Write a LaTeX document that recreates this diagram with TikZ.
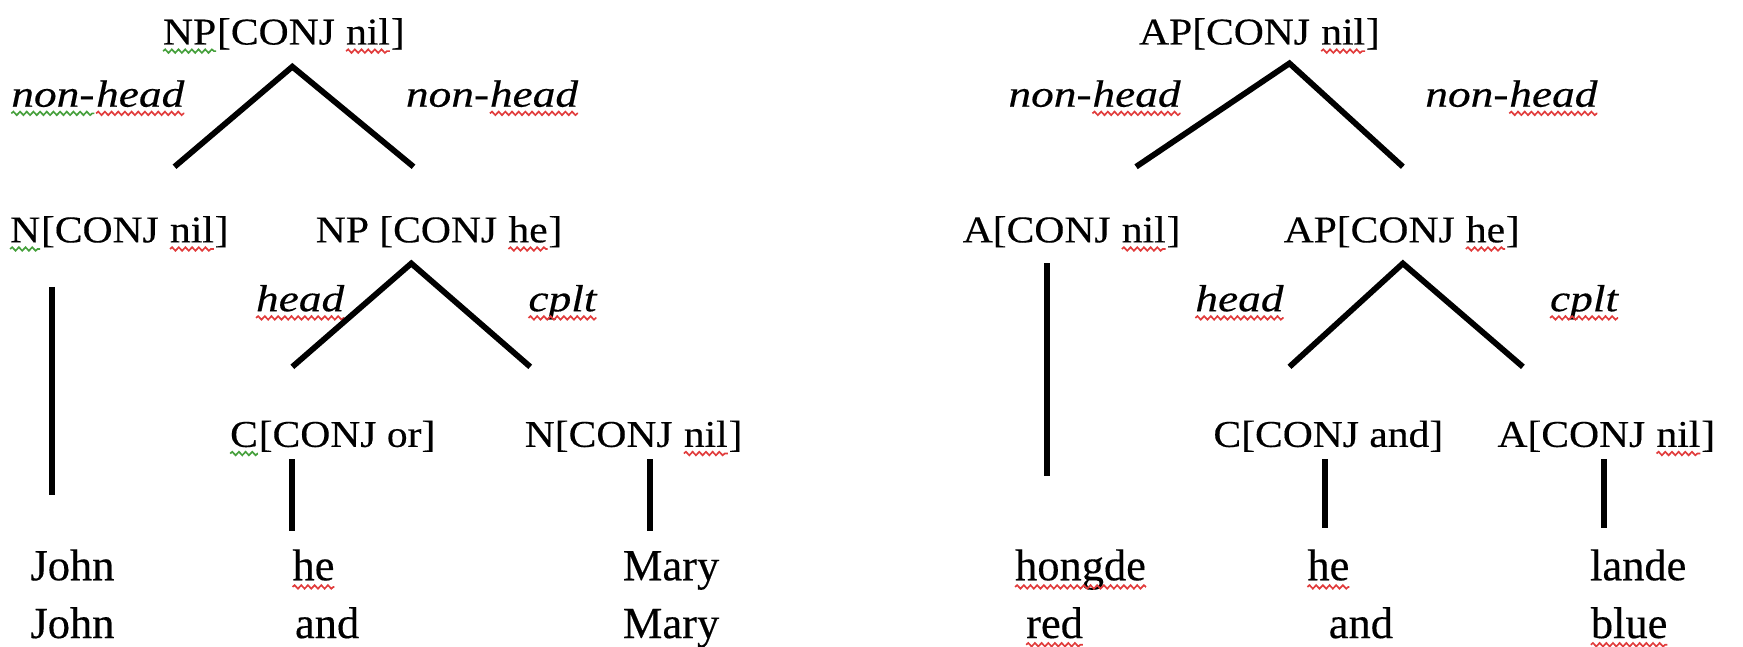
\documentclass[tikz,border=0pt]{standalone}
\usepackage{fontspec}
\setmainfont[FakeBold=0.3]{Liberation Serif}
\newfontfamily\catfont[FakeStretch=1.1,FakeBold=0.35]{Liberation Serif}
\newfontfamily\relfont[FakeStretch=1.2,FakeBold=0.35]{Liberation Serif Italic}
\usetikzlibrary{decorations.pathmorphing}
\definecolor{spellred}{RGB}{225,60,60}
\definecolor{spellgreen}{RGB}{70,160,60}

% wavy proofing underline under a piece of text
\newcommand\squig[2]{\tikz[baseline=(sq.base)]{%
  \node[inner sep=0pt,outer sep=0pt,anchor=base](sq){#2};%
  \draw[#1,line width=0.75pt,decorate,
        decoration={snake,amplitude=0.8pt,segment length=3pt}]
    ([yshift=-3pt]sq.base west) -- ([yshift=-3pt]sq.base east);}}

\tikzset{
  cat/.style={anchor=base, inner sep=0pt, font=\catfont\fontsize{17}{20}\selectfont},
  rel/.style={anchor=base, inner sep=0pt, font=\relfont\fontsize{17}{20}\selectfont},
  word/.style={anchor=base west, inner sep=0pt, font=\fontsize{20}{24}\selectfont},
  branch/.style={line width=2.6pt, line cap=butt},
}

\begin{document}
\begin{tikzpicture}[x=0.5pt,y=-0.5pt]
\useasboundingbox (0,0) rectangle (1568,582);

% ---------- left tree: John he Mary ----------
\node[cat] (np)   at (255,40)  {\squig{spellgreen}{NP}[CONJ \squig{spellred}{nil}]};
\node[rel] (nhl1) at (88,96)   {\squig{spellgreen}{non-}\squig{spellred}{head}};
\node[rel] (nhr1) at (443,96)  {non-\squig{spellred}{head}};
\coordinate (np-top) at (263,60);
\coordinate (np-l)   at (157,150);
\coordinate (np-r)   at (372,150);
\draw[branch] (np-l) -- (np-top) -- (np-r);

\node[cat] (n1)  at (107,218) {\squig{spellgreen}{N}[CONJ \squig{spellred}{nil}]};
\node[cat] (npc) at (395,218) {NP [CONJ \squig{spellred}{he}]};
\coordinate (n1-top) at (47,258);
\coordinate (n1-bot) at (47,445);
\draw[branch] (n1-top) -- (n1-bot);

\node[rel] (hd1) at (270,280) {\squig{spellred}{head}};
\node[rel] (cp1) at (506,280) {\squig{spellred}{cplt}};
\coordinate (npc-top) at (370,237);
\coordinate (npc-l)   at (263,330);
\coordinate (npc-r)   at (477,330);
\draw[branch] (npc-l) -- (npc-top) -- (npc-r);

\node[cat] (c1) at (299,402) {\squig{spellgreen}{C}[CONJ or]};
\node[cat] (n2) at (570,402) {N[CONJ \squig{spellred}{nil}]};
\coordinate (c1-top) at (263,413);
\coordinate (c1-bot) at (263,478);
\coordinate (n2-top) at (585,413);
\coordinate (n2-bot) at (585,478);
\draw[branch] (c1-top) -- (c1-bot);
\draw[branch] (n2-top) -- (n2-bot);

\node[word] (w1a) at (27,522)  {John};
\node[word] (w1b) at (262,522) {\squig{spellred}{he}};
\node[word] (w1c) at (560,522) {Mary};
\node[word] (g1a) at (27,574)  {John};
\node[word] (g1b) at (265,574) {and};
\node[word] (g1c) at (560,574) {Mary};

% ---------- right tree: hongde he lande ----------
\node[cat] (ap)   at (1133,40) {AP[CONJ \squig{spellred}{nil}]};
\node[rel] (nhl2) at (985,96)  {non-\squig{spellred}{head}};
\node[rel] (nhr2) at (1360,96) {non-\squig{spellred}{head}};
\coordinate (ap-top) at (1160,57);
\coordinate (ap-l)   at (1022,150);
\coordinate (ap-r)   at (1262,150);
\draw[branch] (ap-l) -- (ap-top) -- (ap-r);

\node[cat] (a1)  at (964,218)  {A[CONJ \squig{spellred}{nil}]};
\node[cat] (apc) at (1261,218) {AP[CONJ \squig{spellred}{he}]};
\coordinate (a1-top) at (942,237);
\coordinate (a1-bot) at (942,428);
\draw[branch] (a1-top) -- (a1-bot);

\node[rel] (hd2) at (1115,280) {\squig{spellred}{head}};
\node[rel] (cp2) at (1425,280) {\squig{spellred}{cplt}};
\coordinate (apc-top) at (1262,237);
\coordinate (apc-l)   at (1160,330);
\coordinate (apc-r)   at (1370,330);
\draw[branch] (apc-l) -- (apc-top) -- (apc-r);

\node[cat] (c2) at (1195,402) {C[CONJ and]};
\node[cat] (a2) at (1445,402) {A[CONJ \squig{spellred}{nil}]};
\coordinate (c2-top) at (1192,413);
\coordinate (c2-bot) at (1192,475);
\coordinate (a2-top) at (1443,413);
\coordinate (a2-bot) at (1443,475);
\draw[branch] (c2-top) -- (c2-bot);
\draw[branch] (a2-top) -- (a2-bot);

\node[word] (w2a) at (912,522)  {\squig{spellred}{hongde}};
\node[word] (w2b) at (1175,522) {\squig{spellred}{he}};
\node[word] (w2c) at (1430,522) {lande};
\node[word] (g2a) at (922,574)  {\squig{spellred}{red}};
\node[word] (g2b) at (1195,574) {and};
\node[word] (g2c) at (1430,574) {\squig{spellred}{blue}};
\end{tikzpicture}
\end{document}
